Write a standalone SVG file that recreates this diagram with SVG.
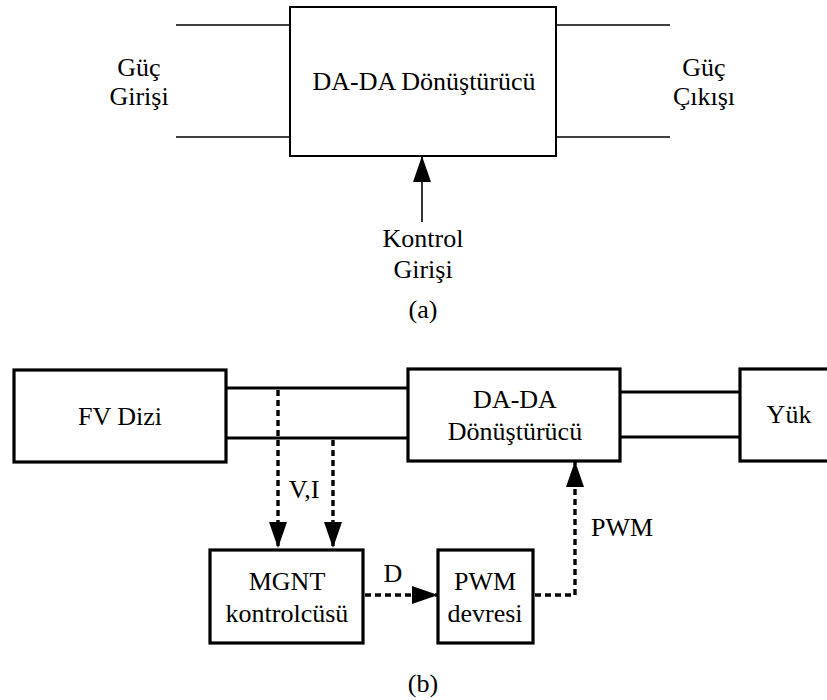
<svg xmlns="http://www.w3.org/2000/svg" width="827" height="700" viewBox="0 0 827 700" font-family="'Liberation Serif', 'DejaVu Serif', serif">
  <style>
    .bg { fill: #ffffff; }
    .box-a { fill: #ffffff; stroke: #000000; stroke-width: 2; }
    .wire-a { fill: none; stroke: #000000; stroke-width: 1.6; }
    .box-b { fill: #ffffff; stroke: #000000; stroke-width: 3.2; }
    .wire-b { fill: none; stroke: #000000; stroke-width: 3.2; }
    .dash { fill: none; stroke: #000000; stroke-width: 3.4; stroke-dasharray: 6 4; }
    text { font-family: 'Liberation Serif', 'DejaVu Serif', serif; font-size: 26px; fill: #000000; text-anchor: middle; }
  </style>
  <defs>
    <marker id="head" viewBox="0 0 26 18" refX="26" refY="9" markerWidth="26" markerHeight="18" markerUnits="userSpaceOnUse" orient="auto">
      <path d="M0,0 L26,9 L0,18 z" fill="#000000"/>
    </marker>
  </defs>
  <rect class="bg" x="0" y="0" width="827" height="700"/>

  <!-- (a) converter block with power and control ports -->
  <g id="conv-a">
    <rect class="box-a" x="290" y="7" width="266" height="149"/>
    <text x="424" y="90">DA-DA Dönüştürücü</text>
  </g>
  <g id="power-in">
    <text x="139" y="76">Güç</text>
    <text x="139" y="105">Girişi</text>
  </g>
  <g id="power-out">
    <text x="704" y="76">Güç</text>
    <text x="704" y="105">Çıkışı</text>
  </g>
  <g id="control-in">
    <text x="423" y="247">Kontrol</text>
    <text x="423" y="278">Girişi</text>
  </g>
  <g id="caption-a">
    <text x="423" y="318">(a)</text>
  </g>

  <!-- (b) MPPT system -->
  <g id="pv-array">
    <rect class="box-b" x="14" y="370" width="212" height="92"/>
    <text x="120" y="425">FV Dizi</text>
  </g>
  <g id="conv-b">
    <rect class="box-b" x="408" y="369" width="212" height="92"/>
    <text x="515" y="408">DA-DA</text>
    <text x="515" y="440">Dönüştürücü</text>
  </g>
  <g id="load">
    <rect class="box-b" x="740" y="369" width="100" height="92"/>
    <text x="789" y="423">Yük</text>
  </g>
  <g id="mppt">
    <rect class="box-b" x="210" y="550" width="153" height="93"/>
    <text x="287" y="590">MGNT</text>
    <text x="287" y="622">kontrolcüsü</text>
  </g>
  <g id="pwm">
    <rect class="box-b" x="438" y="550" width="95" height="93"/>
    <text x="485" y="590">PWM</text>
    <text x="485" y="622">devresi</text>
  </g>
  <g id="caption-b">
    <text x="423" y="692">(b)</text>
  </g>

  <g id="connectors">
    <!-- (a) -->
    <line class="wire-a" x1="176" y1="25" x2="290" y2="25"/>
    <line class="wire-a" x1="176" y1="137" x2="290" y2="137"/>
    <line class="wire-a" x1="556" y1="25" x2="670" y2="25"/>
    <line class="wire-a" x1="556" y1="137" x2="670" y2="137"/>
    <line class="wire-a" x1="422" y1="222" x2="422" y2="156" marker-end="url(#head)"/>
    <!-- (b) power path -->
    <line class="wire-b" x1="226" y1="388" x2="408" y2="388"/>
    <line class="wire-b" x1="226" y1="438" x2="408" y2="438"/>
    <line class="wire-b" x1="620" y1="392" x2="740" y2="392"/>
    <line class="wire-b" x1="620" y1="437" x2="740" y2="437"/>
    <!-- (b) sensing and control signals -->
    <line class="dash" x1="278" y1="390" x2="278" y2="548" marker-end="url(#head)"/>
    <line class="dash" x1="333" y1="440" x2="333" y2="548" marker-end="url(#head)"/>
    <line class="dash" x1="365" y1="595" x2="438" y2="595" marker-end="url(#head)"/>
    <polyline class="dash" points="535,595 575,595 575,461" marker-end="url(#head)"/>
    <text x="304" y="498">V,I</text>
    <text x="393" y="582">D</text>
    <text x="622" y="536">PWM</text>
  </g>
</svg>
